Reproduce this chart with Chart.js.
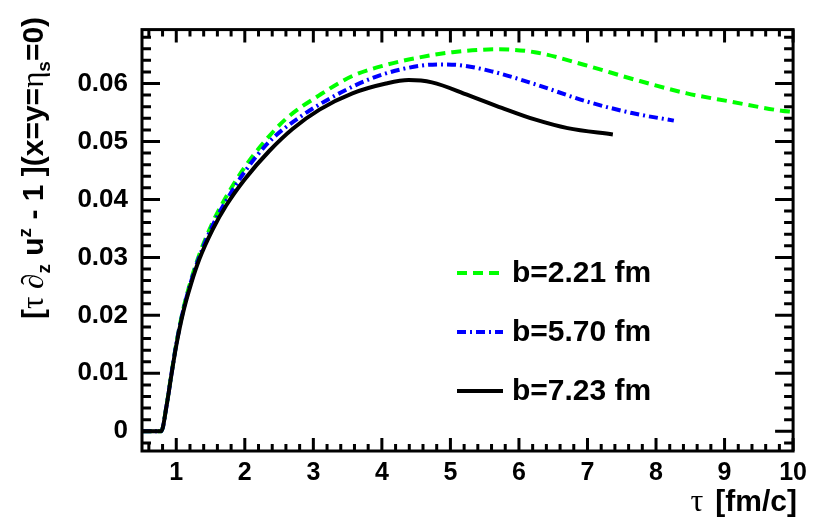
<!DOCTYPE html>
<html><head><meta charset="utf-8">
<script src="https://cdn.jsdelivr.net/npm/chart.js@4/dist/chart.umd.min.js"></script>
<style>html,body{margin:0;padding:0;background:#fff;}#wrap{width:814px;height:529px;}</style>
</head><body><div id="wrap"><canvas id="c" width="814" height="529"></canvas></div>
<script>
// ---- data ----
const xTicks = [1, 2, 3, 4, 5, 6, 7, 8, 9, 10];
const xTickLabels = ['1', '2', '3', '4', '5', '6', '7', '8', '9', '10'];
const yTicks = [0, 0.01, 0.02, 0.03, 0.04, 0.05, 0.06];
const yTickLabels = ['0', '0.01', '0.02', '0.03', '0.04', '0.05', '0.06'];
const seriesNames = ['b=2.21 fm', 'b=5.70 fm', 'b=7.23 fm'];
const xTitle = '\u03c4 [fm/c]';

const tauGreen = [0.5, 0.78, 0.86, 0.93, 1.0, 1.1, 1.22, 1.34, 1.53, 1.73, 2.0, 2.26, 2.6, 3.09, 3.57, 4.06, 4.55, 5.03, 5.7, 6.23, 6.96, 7.68, 8.45, 9.08, 9.83, 10.0];
const valGreen = [0, 0, 0.0046, 0.0100, 0.0151, 0.0210, 0.0263, 0.0306, 0.0360, 0.0405, 0.0456, 0.0496, 0.0539, 0.0580, 0.0613, 0.0632, 0.0645, 0.0654, 0.0659, 0.0654, 0.0632, 0.0607, 0.0583, 0.0569, 0.0553, 0.0551];

const tauBlue = [0.5, 0.78, 0.86, 0.93, 1.0, 1.1, 1.22, 1.34, 1.53, 1.73, 2.0, 2.36, 2.84, 3.33, 3.81, 4.3, 4.83, 5.11, 5.6, 6.23, 6.96, 7.65, 8.26];
const valBlue = [0, 0, 0.0045, 0.0099, 0.0150, 0.0208, 0.0260, 0.0302, 0.0355, 0.0398, 0.0448, 0.0500, 0.0545, 0.0580, 0.0607, 0.0625, 0.0633, 0.0632, 0.0621, 0.0599, 0.0570, 0.0549, 0.0536];

const tauBlack = [0.5, 0.78, 0.86, 0.93, 1.0, 1.1, 1.22, 1.34, 1.53, 1.73, 2.0, 2.36, 2.7, 3.09, 3.57, 4.06, 4.39, 4.73, 5.26, 5.75, 6.23, 6.71, 7.37];
const valBlack = [0, 0, 0.0045, 0.0098, 0.0148, 0.0205, 0.0256, 0.0298, 0.0348, 0.0390, 0.0435, 0.0484, 0.0522, 0.0555, 0.0583, 0.0600, 0.0606, 0.0602, 0.0580, 0.0558, 0.0538, 0.0523, 0.0512];

const pts = (xs, ys) => xs.map((x, i) => ({x: x, y: ys[i]}));
const FONT = "'Liberation Sans', Arial, Helvetica, sans-serif";
const SERIF = "'Liberation Serif', 'DejaVu Serif', serif";

const framePlugin = {
  id: 'frame',
  afterDatasetsDraw(chart) {
    const {ctx, chartArea: a, scales: {x, y}} = chart;
    ctx.save();
    ctx.strokeStyle = '#000';
    ctx.lineWidth = 3;
    ctx.lineCap = 'butt';
    ctx.beginPath();
    for (let k = 3; k <= 50; k++) {
      const v = k * 0.2;
      const major = Math.abs(v - Math.round(v)) < 1e-6;
      const px = x.getPixelForValue(v);
      if (px < a.left || px > a.right) continue;
      const len = major ? 13 : 7;
      ctx.moveTo(px, a.bottom); ctx.lineTo(px, a.bottom - len);
      ctx.moveTo(px, a.top); ctx.lineTo(px, a.top + len);
    }
    for (let k = -1; k <= 34; k++) {
      const v = k * 0.002;
      const major = (k % 5) === 0;
      const py = y.getPixelForValue(v);
      if (py < a.top || py > a.bottom) continue;
      const len = major ? 18 : 9;
      ctx.moveTo(a.left, py); ctx.lineTo(a.left + len, py);
      ctx.moveTo(a.right, py); ctx.lineTo(a.right - len, py);
    }
    ctx.stroke();
    ctx.strokeRect(a.left, a.top, a.right - a.left, a.bottom - a.top);
    ctx.restore();
  }
};

const textPlugin = {
  id: 'texts',
  afterDraw(chart) {
    const ctx = chart.ctx;
    ctx.save();
    ctx.fillStyle = '#000';
    // x-axis title
    ctx.textAlign = 'left';
    ctx.textBaseline = 'alphabetic';
    ctx.font = '32px ' + SERIF;
    const tw = ctx.measureText('\u03c4 ').width + 4;
    ctx.font = 'bold 30px ' + FONT;
    const rest = xTitle.slice(2);
    const rw = ctx.measureText(rest).width;
    const x0 = 797 - rw - tw;
    ctx.font = '32px ' + SERIF;
    ctx.fillText('\u03c4', x0, 511);
    ctx.font = 'bold 30px ' + FONT;
    ctx.fillText(rest, x0 + tw, 511);

    // y-axis title (rotated, with sub/superscripts)
    const fs = 30;
    const sfs = Math.round(fs * 0.62);
    const pieces = [
      {t: '[', f: 'bold ' + fs + 'px ' + FONT, dy: 0},
      {t: '\u03c4 \u2202', f: (fs + 1) + 'px ' + SERIF, dy: 0},
      {t: 'z', f: 'bold ' + sfs + 'px ' + FONT, dy: 7},
      {t: ' u', f: 'bold ' + fs + 'px ' + FONT, dy: 0},
      {t: 'z', f: 'bold ' + sfs + 'px ' + FONT, dy: -12},
      {t: ' - 1 ](x=y=', f: 'bold ' + fs + 'px ' + FONT, dy: 0},
      {t: '\u03b7', f: (fs + 1) + 'px ' + SERIF, dy: 0},
      {t: 's', f: 'bold ' + sfs + 'px ' + FONT, dy: 7},
      {t: '=0)', f: 'bold ' + fs + 'px ' + FONT, dy: 0}
    ];
    let W = 0;
    pieces.forEach(p => { ctx.font = p.f; p.w = ctx.measureText(p.t).width; W += p.w; });
    const centerY = 168, baseX = 43;
    ctx.translate(baseX, 0);
    ctx.rotate(-Math.PI / 2);
    ctx.textAlign = 'left';
    let lx = -(centerY + W / 2);
    pieces.forEach(p => { ctx.font = p.f; ctx.fillText(p.t, lx, p.dy); lx += p.w; });
    ctx.setTransform(1, 0, 0, 1, 0, 0);

    // legend
    const rows = [273, 332, 391];
    ctx.font = 'bold 30px ' + FONT;
    ctx.textAlign = 'left';
    ctx.textBaseline = 'middle';
    [0, 1, 2].forEach((di, r) => {
      const ds = chart.data.datasets[di];
      ctx.save();
      ctx.strokeStyle = ds.borderColor;
      ctx.lineWidth = ds.borderWidth;
      ctx.setLineDash(ds.borderDash || []);
      ctx.beginPath();
      ctx.moveTo(457, rows[r]); ctx.lineTo(503, rows[r]);
      ctx.stroke();
      ctx.restore();
      ctx.fillText(seriesNames[r], 512, rows[r] + 1);
    });
    ctx.restore();
  }
};

new Chart(document.getElementById('c'), {
  type: 'line',
  data: {
    datasets: [
      {label: seriesNames[0], data: pts(tauGreen, valGreen), borderColor: '#00ff00', borderWidth: 4, borderDash: [10, 6], pointRadius: 0, fill: false, cubicInterpolationMode: 'monotone', order: 3},
      {label: seriesNames[1], data: pts(tauBlue, valBlue), borderColor: '#0000ff', borderWidth: 4, borderDash: [9, 4, 2, 4], pointRadius: 0, fill: false, cubicInterpolationMode: 'monotone', order: 2},
      {label: seriesNames[2], data: pts(tauBlack, valBlack), borderColor: '#000000', borderWidth: 4, pointRadius: 0, fill: false, cubicInterpolationMode: 'monotone', order: 1}
    ]
  },
  options: {
    responsive: false,
    devicePixelRatio: 1,
    animation: false,
    layout: {padding: {left: 0, right: 18, top: 6, bottom: 0}},
    plugins: {legend: {display: false}, tooltip: {enabled: false}, title: {display: false}},
    scales: {
      x: {
        type: 'linear', min: 0.5, max: 10,
        grid: {display: false, drawTicks: false}, border: {display: false},
        afterBuildTicks: s => { s.ticks = xTicks.map(v => ({value: v})); },
        afterFit: s => { s.height = 78; },
        ticks: {autoSkip: false, maxRotation: 0, padding: 7, color: '#000',
          font: {family: FONT, size: 25, weight: 'bold'},
          callback: (v, i) => xTickLabels[i]}
      },
      y: {
        type: 'linear', min: -0.0034, max: 0.0693,
        grid: {display: false, drawTicks: false}, border: {display: false},
        afterBuildTicks: s => { s.ticks = yTicks.map(v => ({value: v})); },
        afterFit: s => { s.width = 142; },
        ticks: {autoSkip: false, padding: 14, color: '#000',
          font: {family: FONT, size: 26, weight: 'bold'},
          callback: (v, i) => yTickLabels[i]}
      }
    }
  },
  plugins: [framePlugin, textPlugin]
});
</script></body></html>
